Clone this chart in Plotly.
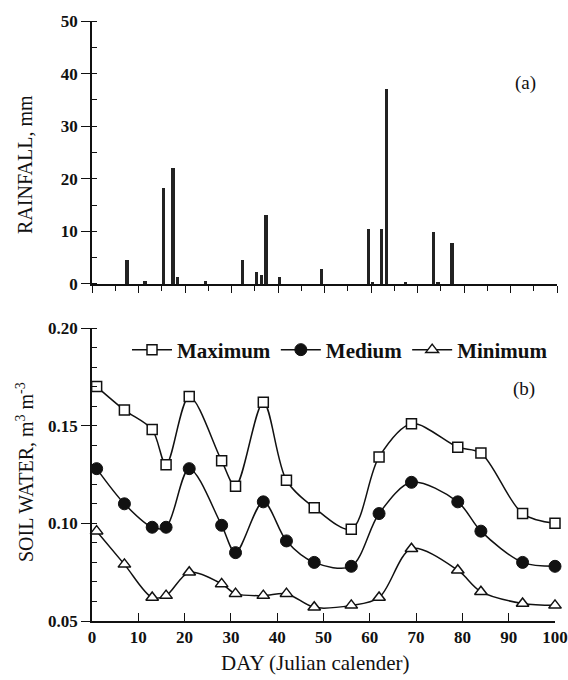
import plotly.graph_objects as go

# ---- data ----
rain_day = [7.5, 11.4, 15.4, 17.4, 18.4, 24.4, 32.4, 35.4, 36.5, 37.4, 40.3,
            49.4, 59.4, 60.4, 62.3, 63.3, 67.4, 73.4, 74.4, 77.4]
rain_mm = [4.5, 0.6, 18.3, 22.1, 1.4, 0.6, 4.5, 2.2, 1.7, 13.2, 1.3,
           2.9, 10.4, 0.3, 10.4, 37.1, 0.3, 9.8, 0.2, 7.7]

sw_day = [1, 7, 13, 16, 21, 28, 31, 37, 42, 48, 56, 62, 69, 79, 84, 93, 100]
sw_max = [0.170, 0.158, 0.148, 0.130, 0.165, 0.132, 0.119, 0.162, 0.122, 0.108,
          0.097, 0.134, 0.151, 0.139, 0.136, 0.105, 0.100]
sw_med = [0.128, 0.110, 0.098, 0.098, 0.128, 0.099, 0.085, 0.111, 0.091, 0.080,
          0.078, 0.105, 0.121, 0.111, 0.096, 0.080, 0.078]
sw_min = [0.096, 0.079, 0.062, 0.063, 0.075, 0.069, 0.064, 0.063, 0.064, 0.057,
          0.058, 0.062, 0.087, 0.076, 0.065, 0.059, 0.058]

x_ticks = [0, 10, 20, 30, 40, 50, 60, 70, 80, 90, 100]
x_ticklabels = ["0", "10", "20", "30", "40", "50", "60", "70", "80", "90", "100"]
rain_ticks = [0, 10, 20, 30, 40, 50]
rain_ticklabels = ["0", "10", "20", "30", "40", "50"]
sw_ticks = [0.05, 0.10, 0.15, 0.20]
sw_ticklabels = ["0.05", "0.10", "0.15", "0.20"]

SERIF = "Liberation Serif"
BLACK = "#111111"


def bold(labels):
    return ["<b>%s</b>" % s for s in labels]


fig = go.Figure()

fig.add_trace(go.Bar(x=rain_day, y=rain_mm, width=0.7,
                     marker=dict(color="#222222", line=dict(width=0)),
                     xaxis="x", yaxis="y", showlegend=False))

line_kw = dict(color=BLACK, width=1.5, shape="spline", smoothing=0.9)
fig.add_trace(go.Scatter(x=sw_day, y=sw_max, mode="lines+markers", name="Maximum",
                         line=line_kw,
                         marker=dict(symbol="square", size=10, color="white",
                                     line=dict(color=BLACK, width=1.5)),
                         xaxis="x2", yaxis="y2", cliponaxis=False))
fig.add_trace(go.Scatter(x=sw_day, y=sw_med, mode="lines+markers", name="Medium",
                         line=line_kw,
                         marker=dict(symbol="circle", size=12, color=BLACK,
                                     line=dict(color=BLACK, width=1)),
                         xaxis="x2", yaxis="y2", cliponaxis=False))
fig.add_trace(go.Scatter(x=sw_day, y=sw_min, mode="lines+markers", name="Minimum",
                         line=line_kw,
                         marker=dict(symbol="triangle-up", size=11, color="white",
                                     line=dict(color=BLACK, width=1.5)),
                         xaxis="x2", yaxis="y2", cliponaxis=False))

tickfont = dict(family=SERIF, size=17, color=BLACK)

top_dom = [0.5617, 1.0]
bot_dom = [0.0, 0.4883]

fig.update_layout(
    width=568, height=680,
    margin=dict(l=92, r=11, t=21, b=59, autoexpand=False),
    paper_bgcolor="white", plot_bgcolor="white",
    bargap=0,
    xaxis=dict(domain=[0, 1], range=[0, 100], anchor="y", automargin=False,
               showline=True, linecolor=BLACK, linewidth=1.5,
               ticks="outside", ticklen=7, tickwidth=1.2, tickcolor=BLACK,
               tickvals=x_ticks, showticklabels=False, showgrid=False, zeroline=False,
               minor=dict(dtick=5, tick0=0, ticks="outside", ticklen=5, tickwidth=1.2, tickcolor=BLACK)),
    yaxis=dict(domain=top_dom, range=[0, 50], anchor="x", automargin=False,
               showline=True, linecolor=BLACK, linewidth=1.5,
               ticks="outside", ticklen=9, tickwidth=1.2, tickcolor=BLACK,
               tickvals=rain_ticks, ticktext=bold(rain_ticklabels), tickfont=tickfont,
               showgrid=False, zeroline=False,
               minor=dict(dtick=5, tick0=0, ticks="inside", ticklen=5, tickwidth=1.2, tickcolor=BLACK)),
    xaxis2=dict(domain=[0, 0.9957], range=[0, 100], anchor="y2", automargin=False,
                showline=True, linecolor=BLACK, linewidth=1.5,
                ticks="inside", ticklen=8, tickwidth=1.2, tickcolor=BLACK,
                tickvals=x_ticks, ticktext=bold(x_ticklabels), tickfont=tickfont,
                ticklabeloverflow="allow",
                showgrid=False, zeroline=False),
    yaxis2=dict(domain=bot_dom, range=[0.05, 0.20], anchor="x2", automargin=False,
                showline=True, linecolor=BLACK, linewidth=1.5,
                ticks="outside", ticklen=9, tickwidth=1.2, tickcolor=BLACK,
                tickvals=sw_ticks, ticktext=bold(sw_ticklabels), tickfont=tickfont,
                showgrid=False, zeroline=False,
                minor=dict(dtick=0.01, tick0=0.05, ticks="inside", ticklen=5, tickwidth=1.2, tickcolor=BLACK)),
    legend=dict(orientation="h", x=(127 - 92) / 465, y=(621 - 350) / 600,
                xanchor="left", yanchor="middle",
                font=dict(family=SERIF, size=21, color=BLACK, weight="bold"),
                bgcolor="rgba(0,0,0,0)", itemwidth=40, tracegroupgap=0),
    showlegend=True,
)

ann_font = dict(family=SERIF, size=20, color=BLACK)
fig.add_annotation(text="(a)", x=93.3, y=38.2, xref="x", yref="y", showarrow=False,
                   xanchor="center", yanchor="middle",
                   font=dict(family=SERIF, size=19, color=BLACK))
fig.add_annotation(text="(b)", x=93.3, y=0.169, xref="x2", yref="y2", showarrow=False,
                   xanchor="center", yanchor="middle",
                   font=dict(family=SERIF, size=19, color=BLACK))
fig.add_annotation(text="RAINFALL, mm", x=0, y=(621 - 165) / 600,
                   xref="paper", yref="paper", xshift=-67, showarrow=False, textangle=-90,
                   xanchor="center", yanchor="middle", font=ann_font)
fig.add_annotation(text="SOIL WATER, m<sup>3</sup> m<sup>-3</sup>", x=0, y=(621 - 472) / 600,
                   xref="paper", yref="paper", xshift=-67, showarrow=False, textangle=-90,
                   xanchor="center", yanchor="middle", font=ann_font)
fig.add_annotation(text="DAY (Julian calender)", x=(315 - 92) / 465, y=0, xref="paper", yref="paper",
                   yshift=-42, showarrow=False, xanchor="center", yanchor="middle",
                   font=dict(family=SERIF, size=21, color=BLACK))

fig.write_html("out.html", config={"displayModeBar": False},
               post_script="document.body.style.margin='0';")
